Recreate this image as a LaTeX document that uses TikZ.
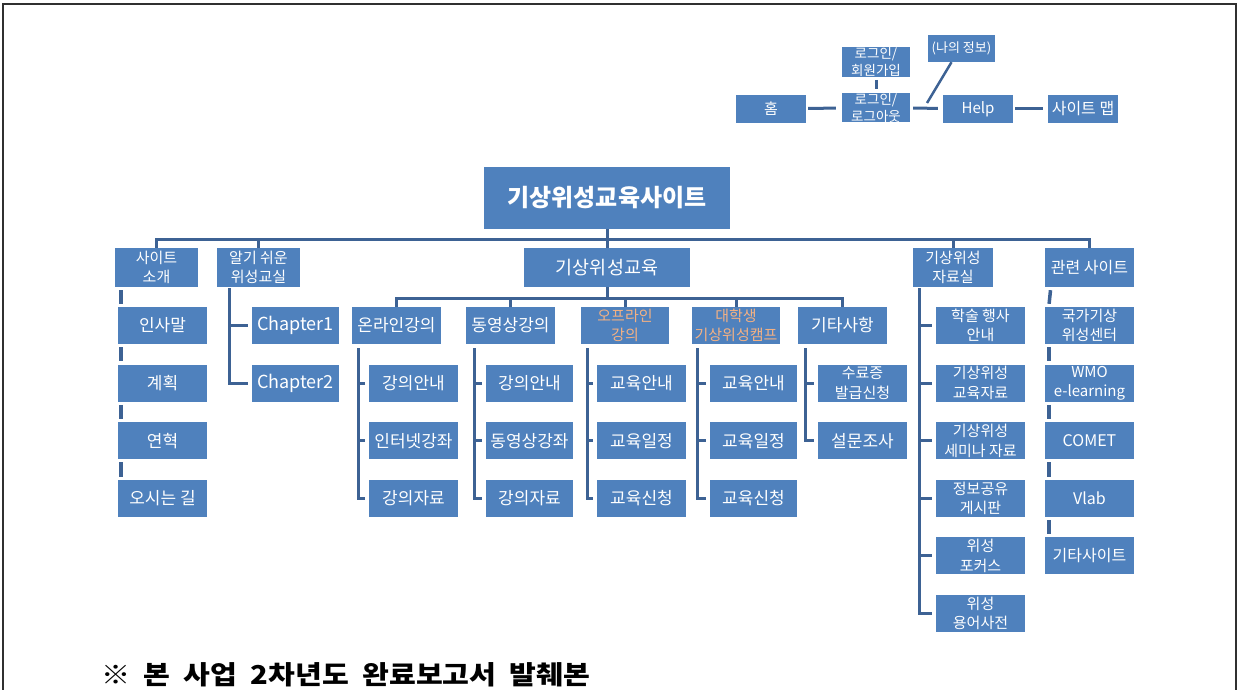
\documentclass[tikz,border=0pt]{standalone}
\usepackage{fontspec}
\setmainfont{Noto Sans CJK KR}
\definecolor{boxblue}{HTML}{4F81BD}
\definecolor{linec}{HTML}{3D6294}
\definecolor{orangeT}{HTML}{F4B183}
\definecolor{framec}{HTML}{303030}
\def\rA{325.5}\def\rB{383.1}\def\rC{440.7}\def\rD{498.3}\def\rE{555.9}\def\rF{613.5}
\begin{document}
\begin{tikzpicture}[x=1pt,y=-1pt,
  box/.style={fill=boxblue,text=white,inner sep=0pt,align=center,minimum width=89pt,minimum height=37pt},
  tA/.style={font=\fontsize{13.5}{17}\selectfont},
  tB/.style={font=\fontsize{15}{17}\selectfont},
  tC/.style={font=\fontsize{15}{19.5}\selectfont},
  tD/.style={font=\fontsize{16}{19}\selectfont},
  tE/.style={font=\fontsize{17}{20}\selectfont},
  conn/.style={draw=linec,line width=3pt},
  seg/.style={draw=linec,line width=3.5pt,shorten <=3pt,shorten >=3pt},
  elb/.style={draw=linec,line width=3pt,shorten <=4pt,shorten >=4pt}]
\useasboundingbox (0,0) rectangle (1239,690);
\draw[framec,line width=2.2pt] (3,690) -- (3,4) -- (1236,4) -- (1236,690);

% top navigation cluster
\node[box,tB,minimum width=70pt,minimum height=28pt] (home) at (771,109) {홈};
\node[box,tA,minimum width=68pt,minimum height=28pt] (join) at (876,62) {로그인/\\회원가입};
\node[box,tA,minimum width=68pt,minimum height=29pt] (login) at (876,107.5) {로그인/\\로그아웃};
\node[box,font=\fontsize{13}{16}\selectfont,minimum width=67pt,minimum height=27pt] (myinfo) at (961.5,48.5) {(나의 정보)};
\node[box,tB,minimum width=70pt,minimum height=28pt] (help) at (978,109) {Help};
\node[box,tD,minimum width=70pt,minimum height=28pt] (sitemap) at (1083,109) {사이트 맵};
\draw[conn,shorten <=2pt,shorten >=6pt] (home) -- (login);
\draw[conn,shorten <=3pt,shorten >=5pt] (login) -- (help);
\draw[conn,shorten <=2pt,shorten >=5pt] (help) -- (sitemap);
\draw[conn,shorten <=3pt,shorten >=4pt] (join) -- (login);
\coordinate (dj) at (927,103);
\draw[draw=linec,line width=2.5pt] ([xshift=-10pt]myinfo.south) -- (dj);

% root
\node[box,font=\fontsize{24}{28}\selectfont\bfseries,minimum width=246pt,minimum height=62pt] (root) at (607,198) {기상위성교육사이트};

% level 1
\node[box,tC,minimum width=83pt,minimum height=39pt] (intro) at (156.5,267.5) {사이트\\소개};
\node[box,tC,minimum width=83pt,minimum height=39pt] (easy) at (258.5,267.5) {알기 쉬운\\위성교실};
\node[box,font=\fontsize{18.5}{22}\selectfont,minimum width=166pt,minimum height=39pt] (edu) at (607,267.5) {기상위성교육};
\node[box,tC,minimum width=80pt,minimum height=39pt] (data) at (953,267.5) {기상위성\\자료실};
\node[box,tD,minimum width=89pt,minimum height=39pt] (rel) at (1089.5,267.5) {관련 사이트};
\coordinate (bus) at (0,239);
\draw[conn] (root.south) -- (root.south|-bus) -| (intro.north);
\draw[conn] (root.south) -- (root.south|-bus) -| (easy.north);
\draw[conn] (root.south) -- (edu.north);
\draw[conn] (root.south) -- (root.south|-bus) -| (data.north);
\draw[conn] (root.south) -- (root.south|-bus) -| (rel.north);

% level 2 under edu
\node[box,tE] (on) at (396.5,\rA) {온라인강의};
\node[box,tE] (vid) at (510.5,\rA) {동영상강의};
\node[box,tC,text=orangeT,minimum width=88pt] (off) at (625,\rA) {오프라인\\강의};
\node[box,tC,text=orangeT,minimum width=88pt] (camp) at (736,\rA) {대학생\\기상위성캠프};
\node[box,tE] (etc) at (842.5,\rA) {기타사항};
\coordinate (bus2) at (0,298);
\draw[conn] (edu.south) -- (edu.south|-bus2) -| (on.north);
\draw[conn] (edu.south) -- (edu.south|-bus2) -| (vid.north);
\draw[conn] (edu.south) -- (edu.south|-bus2) -| (off.north);
\draw[conn] (edu.south) -- (edu.south|-bus2) -| (camp.north);
\draw[conn] (edu.south) -- (edu.south|-bus2) -| (etc.north);

% site intro column
\node[box,tE] (i1) at (162.5,\rA) {인사말};
\node[box,tE] (i2) at (162.5,\rB) {계획};
\node[box,tE] (i3) at (162.5,\rC) {연혁};
\node[box,tE] (i4) at (162.5,\rD) {오시는 길};
\draw[seg] ([xshift=6pt]intro.south west) -- ([xshift=3pt]i1.north west);
\draw[seg] ([xshift=3pt]i1.south west) -- ([xshift=3pt]i2.north west);
\draw[seg] ([xshift=3pt]i2.south west) -- ([xshift=3pt]i3.north west);
\draw[seg] ([xshift=3pt]i3.south west) -- ([xshift=3pt]i4.north west);

% easy column
\node[box,font=\fontsize{18}{21}\selectfont,minimum width=87pt] (c1) at (295.5,\rA) {Chapter1};
\node[box,font=\fontsize{18}{21}\selectfont,minimum width=87pt] (c2) at (295.5,\rB) {Chapter2};
\draw[elb,shorten <=1pt] ([xshift=13pt]easy.south west) |- (c2.west);
\draw[elb,shorten <=1pt] ([xshift=13pt]easy.south west) |- (c1.west);

% online
\node[box,tE] (on1) at (413.5,\rB) {강의안내};
\node[box,tE] (on2) at (413.5,\rC) {인터넷강좌};
\node[box,tE] (on3) at (413.5,\rD) {강의자료};
\draw[elb] ([xshift=7pt]on.south west) |- (on3.west);
\draw[elb] ([xshift=7pt]on.south west) |- (on2.west);
\draw[elb] ([xshift=7pt]on.south west) |- (on1.west);

% video
\node[box,tE,minimum width=87pt] (v1) at (529.5,\rB) {강의안내};
\node[box,tE,minimum width=87pt] (v2) at (529.5,\rC) {동영상강좌};
\node[box,tE,minimum width=87pt] (v3) at (529.5,\rD) {강의자료};
\draw[elb] ([xshift=9pt]vid.south west) |- (v3.west);
\draw[elb] ([xshift=9pt]vid.south west) |- (v2.west);
\draw[elb] ([xshift=9pt]vid.south west) |- (v1.west);

% offline
\node[box,tE] (o1) at (641.5,\rB) {교육안내};
\node[box,tE] (o2) at (641.5,\rC) {교육일정};
\node[box,tE] (o3) at (641.5,\rD) {교육신청};
\draw[elb] ([xshift=7pt]off.south west) |- (o3.west);
\draw[elb] ([xshift=7pt]off.south west) |- (o2.west);
\draw[elb] ([xshift=7pt]off.south west) |- (o1.west);

% camp
\node[box,tE,minimum width=87pt] (k1) at (753.5,\rB) {교육안내};
\node[box,tE,minimum width=87pt] (k2) at (753.5,\rC) {교육일정};
\node[box,tE,minimum width=87pt] (k3) at (753.5,\rD) {교육신청};
\draw[elb] ([xshift=6pt]camp.south west) |- (k3.west);
\draw[elb] ([xshift=6pt]camp.south west) |- (k2.west);
\draw[elb] ([xshift=6pt]camp.south west) |- (k1.west);

% etc
\node[box,tC] (e1) at (862.5,\rB) {수료증\\발급신청};
\node[box,tE] (e2) at (862.5,\rC) {설문조사};
\draw[elb] ([xshift=8pt]etc.south west) |- (e2.west);
\draw[elb] ([xshift=8pt]etc.south west) |- (e1.west);

% data room
\node[box,tC] (d1) at (980.5,\rA) {학술 행사\\안내};
\node[box,tC] (d2) at (980.5,\rB) {기상위성\\교육자료};
\node[box,tC] (d3) at (980.5,\rC) {기상위성\\세미나 자료};
\node[box,tC] (d4) at (980.5,\rD) {정보공유\\게시판};
\node[box,tC] (d5) at (980.5,\rE) {위성\\포커스};
\node[box,tC] (d6) at (980.5,\rF) {위성\\용어사전};
\draw[elb,shorten <=1pt] ([xshift=7pt]data.south west) |- (d6.west);
\draw[elb,shorten <=1pt] ([xshift=7pt]data.south west) |- (d5.west);
\draw[elb,shorten <=1pt] ([xshift=7pt]data.south west) |- (d4.west);
\draw[elb,shorten <=1pt] ([xshift=7pt]data.south west) |- (d3.west);
\draw[elb,shorten <=1pt] ([xshift=7pt]data.south west) |- (d2.west);
\draw[elb,shorten <=1pt] ([xshift=7pt]data.south west) |- (d1.west);

% related sites
\node[box,tC] (s1) at (1089.5,\rA) {국가기상\\위성센터};
\node[box,tC] (s2) at (1089.5,\rB) {WMO\\e-learning};
\node[box,tD] (s3) at (1089.5,\rC) {COMET};
\node[box,tD] (s4) at (1089.5,\rD) {Vlab};
\node[box,tD] (s5) at (1089.5,\rE) {기타사이트};
\draw[seg] ([xshift=6pt]rel.south west) -- ([xshift=4pt]s1.north west);
\draw[seg] ([xshift=4pt]s1.south west) -- ([xshift=4pt]s2.north west);
\draw[seg] ([xshift=4pt]s2.south west) -- ([xshift=4pt]s3.north west);
\draw[seg] ([xshift=4pt]s3.south west) -- ([xshift=4pt]s4.north west);
\draw[seg] ([xshift=4pt]s4.south west) -- ([xshift=4pt]s5.north west);

% footnote
\node[anchor=base west,inner sep=0pt,font=\fontsize{26}{30}\selectfont\bfseries] (note) at (101,684)
  {\scalebox{1.12}[1]{※\hskip 12pt 본\hskip 12pt 사업\hskip 12pt 2차년도\hskip 12pt 완료보고서\hskip 12pt 발췌본}};
\end{tikzpicture}
\end{document}
